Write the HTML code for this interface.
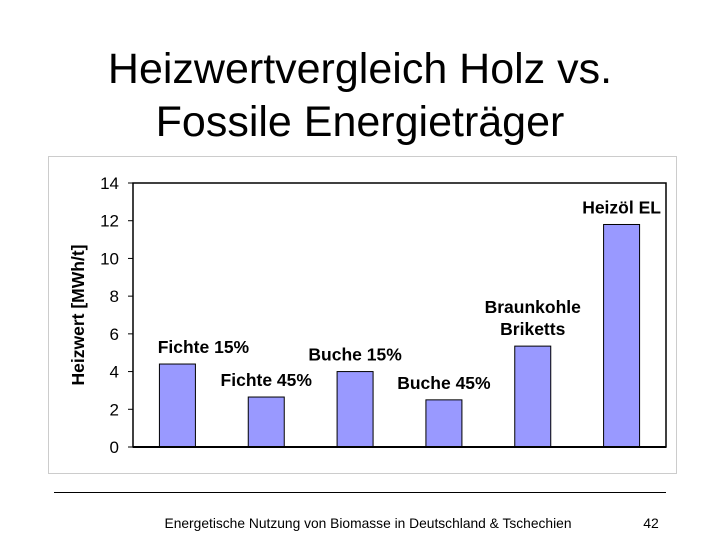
<!DOCTYPE html>
<html><head><meta charset="utf-8"><style>
body{margin:0;width:720px;height:540px;background:#fff;overflow:hidden;font-family:"Liberation Sans",sans-serif}
</style></head><body>
<svg width="720" height="540">
<text x="360" y="83" text-anchor="middle" font-size="43" fill="#000">Heizwertvergleich Holz vs.</text>
<text x="360" y="136" text-anchor="middle" font-size="43" fill="#000">Fossile Energieträger</text>
<rect x="48.5" y="156.5" width="628" height="317" fill="#fff" stroke="#ccc"/>
<g id="chart"></g>
<line x1="54" y1="492.5" x2="666" y2="492.5" stroke="#000"/>
<text x="368" y="528" text-anchor="middle" font-size="13.8">Energetische Nutzung von Biomasse in Deutschland &amp; Tschechien</text>
<text x="651" y="528" text-anchor="middle" font-size="14">42</text>
</svg>
<script>
const categories=["Fichte 15%","Fichte 45%","Buche 15%","Buche 45%","Braunkohle Briketts","Heizöl EL"];
const values=[4.4,2.65,4.0,2.5,5.35,11.8];
const ticks=[0,2,4,6,8,10,12,14];
const labelLines=[["Fichte 15%"],["Fichte 45%"],["Buche 15%"],["Buche 45%"],["Braunkohle","Briketts"],["Heizöl EL"]];
const labelDx=[26,0,0,0,0,0];
const NS="http://www.w3.org/2000/svg";
const g=document.getElementById('chart');
const L=133,R=666,T=183,B=447,ymax=14;
const y=v=>B-(v/ymax)*(B-T);
const bw=(R-L)/categories.length;
const x=i=>L+bw*(i+0.5);
function mk(t,a){const e=document.createElementNS(NS,t);for(const k in a)e.setAttribute(k,a[k]);g.appendChild(e);return e;}
const box=mk('rect',{x:L,y:T,width:R-L,height:B-T,fill:'#fff',stroke:'#000','stroke-width':1.5});


ticks.forEach(t=>{
 const tk=mk('line',{x1:L-5,x2:L,y1:y(t),y2:y(t),stroke:'#000'});
 
 
 const tl=mk('text',{x:119,y:y(t)+6,'text-anchor':'end','font-size':17});
 tl.textContent=t;
 
 
});
const yt=mk('text',{x:0,y:0,transform:'translate(84,315) rotate(-90)','text-anchor':'middle','font-size':17.5,'font-weight':'bold'});
yt.textContent='Heizwert [MWh/t]';


values.forEach((v,i)=>{
 const r=mk('rect',{x:x(i)-18,y:y(v),width:36,height:B-y(v),fill:'#9999ff',stroke:'#000','stroke-width':1});
 
 
 const lines=labelLines[i];
 const base=y(v)-11-(lines.length-1)*22;
 lines.forEach((ln,j)=>{
  const t=mk('text',{x:x(i)+labelDx[i],y:base+j*22,'text-anchor':'middle','font-size':17.5,'font-weight':'bold'});
  t.textContent=ln;
  
  
 });
});
const ax=mk('line',{x1:L,x2:R,y1:B,y2:B,stroke:'#000','stroke-width':2});


</script>
</body></html>
